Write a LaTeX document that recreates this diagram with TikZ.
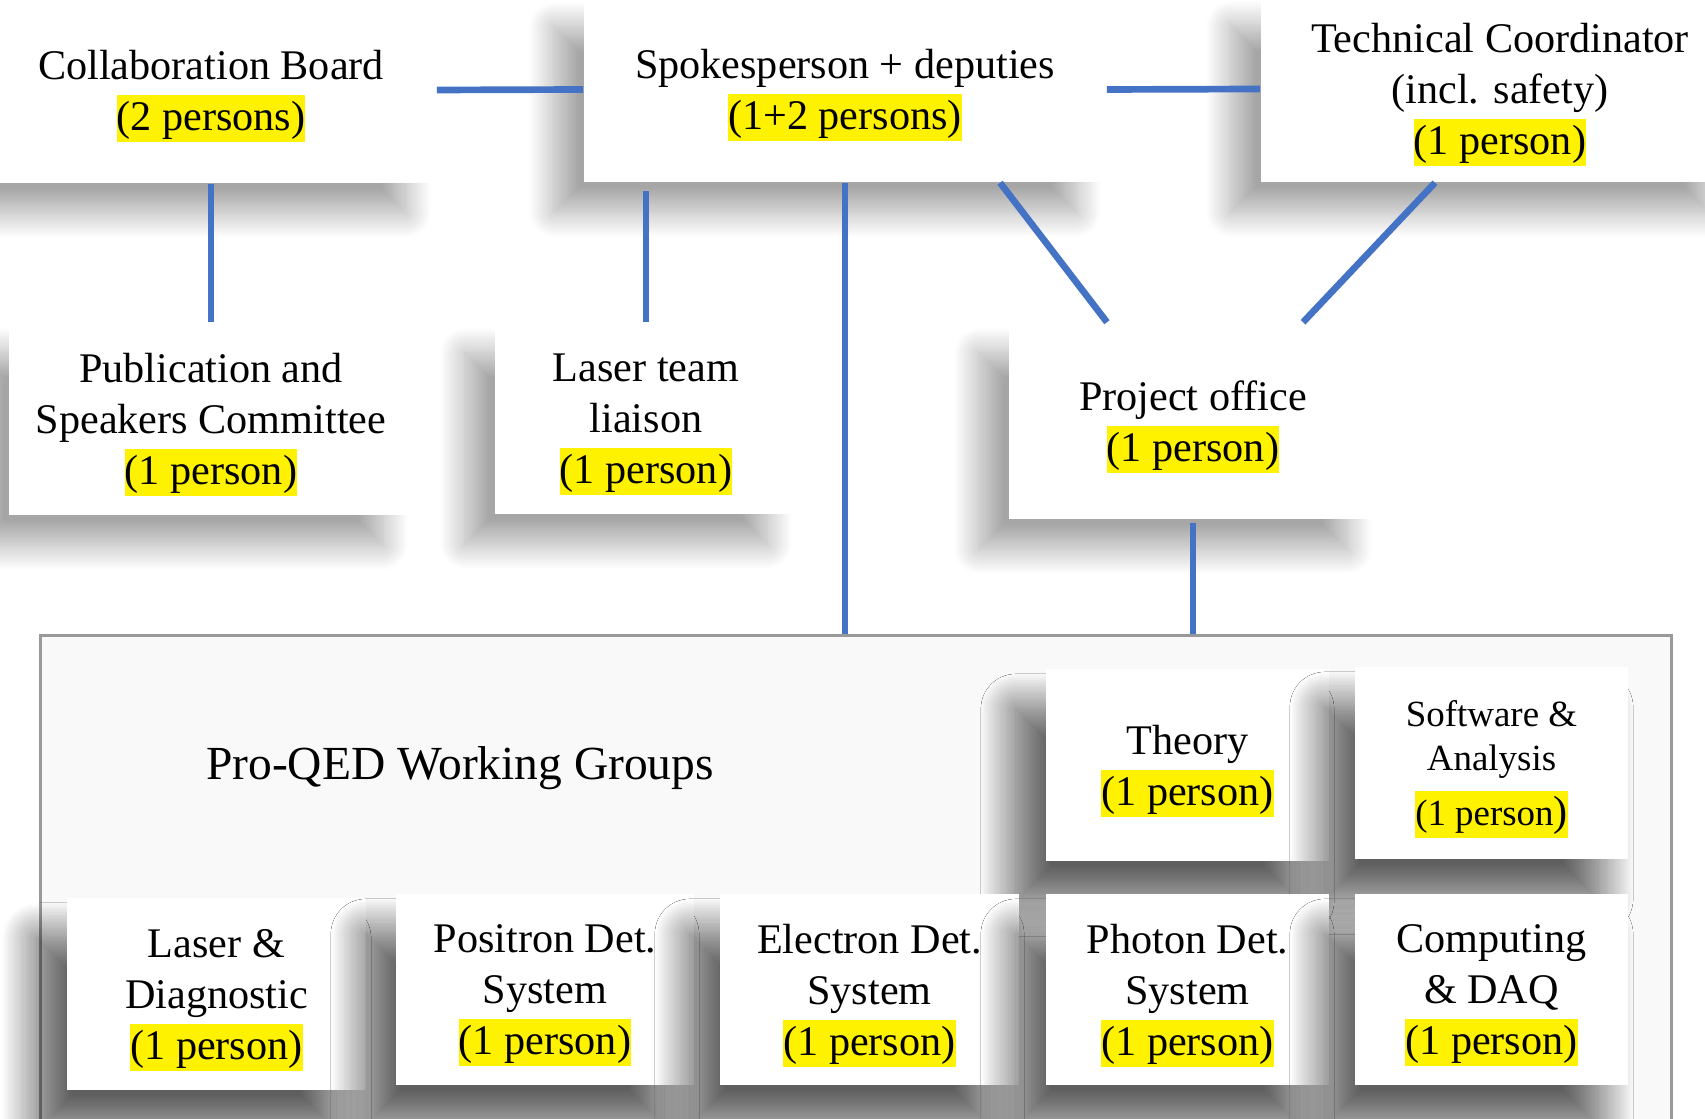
\documentclass[tikz,border=0pt]{standalone}
\usepackage{fontspec}
\setmainfont{Liberation Serif}
\usetikzlibrary{calc,shadows.blur}
\definecolor{linkblue}{HTML}{4472C4}
\definecolor{wgfill}{HTML}{F9F9FA}
\newcommand{\hl}[1]{\raisebox{0pt}[\height][-1.1pt]{\setlength{\fboxsep}{0pt}\colorbox{yellow}{\rule[-3.3pt]{0pt}{13.3pt}#1}}}

\begin{document}
\begin{tikzpicture}[x=0.01cm, y=-0.01cm,
  unit/.style={rectangle, fill=white, inner sep=0pt, align=center,
    font=\fontsize{12}{14.5}\selectfont,
    blur shadow={shadow xshift=-0.3cm, shadow yshift=-0.3cm,
      shadow blur radius=0.25cm, shadow blur steps=25, shadow opacity=35}},
  group/.style={unit,
    blur shadow={shadow xshift=-0.3cm, shadow yshift=-0.4cm,
      shadow blur radius=0.35cm, shadow blur steps=30, shadow opacity=38}},
  link/.style={draw=linkblue, line width=1.9pt}]
  \useasboundingbox (0,0) rectangle (1705,1119);
  \clip (0,0) rectangle (1705,1119);
  % top row
  \node[unit, minimum width=4.5cm, minimum height=1.86cm] (cb) at (211,90) {Collaboration Board\\\hl{(2 persons)}};
  \node[unit, minimum width=5.22cm, minimum height=1.85cm] (sp) at (845,89.5) {Spokesperson + deputies\\\hl{(1+2 persons)}};
  \node[unit, minimum width=4.78cm, minimum height=1.86cm] (tc) at (1500,89) {Technical Coordinator\\(incl. safety)\\\hl{(1 person)}};
  % second row
  \node[unit, minimum width=4.04cm, minimum height=1.92cm] (pub) at (211,419) {Publication and\\Speakers Committee\\\hl{(1 person)}};
  \node[unit, minimum width=3.02cm, minimum height=1.91cm] (lt) at (646,418.5) {Laser team\\liaison\\\hl{(1 person)}};
  \node[unit, minimum width=3.68cm, minimum height=1.96cm] (po) at (1193,421) {Project office\\\hl{(1 person)}};
  % working groups
  \node[draw=gray!80, fill=wgfill, line width=0.8pt, inner sep=0pt, minimum width=16.3cm, minimum height=4.94cm] (wg) at (856,883) {};
  \node[font=\fontsize{13.5}{16}\selectfont] (wgtitle) at (460,768) {Pro-QED Working Groups};
  \node[group, minimum width=2.83cm, minimum height=1.92cm] (th) at (1187.5,765) {Theory\\\hl{(1 person)}};
  \node[group, font=\fontsize{10.5}{12.7}\selectfont, minimum width=2.73cm, minimum height=1.92cm] (sw) at (1491.5,763) {Software \&\\Analysis\\[3pt]\hl{(1 person{\fontsize{12}{12.7}\selectfont)}}};
  \node[group, minimum width=2.99cm, minimum height=1.92cm] (ld) at (216.5,994) {Laser \&\\Diagnostic\\\hl{(1 person)}};
  \node[group, minimum width=2.98cm, minimum height=1.91cm] (pos) at (545,989.5) {Positron Det.\\System\\\hl{(1 person)}};
  \node[group, minimum width=2.99cm, minimum height=1.91cm] (el) at (869.5,989.5) {Electron Det.\\System\\\hl{(1 person)}};
  \node[group, minimum width=2.83cm, minimum height=1.91cm] (ph) at (1187.5,989.5) {Photon Det.\\System\\\hl{(1 person)}};
  \node[group, minimum width=2.73cm, minimum height=1.91cm] (cd) at (1491.5,989.5) {Computing\\\& DAQ\\\hl{(1 person)}};
  % connectors
  \draw[link] (cb.east) -- (sp.west);
  \draw[link] (sp.east) -- (tc.west);
  \draw[link] (cb.south) -- (pub.north);
  \draw[link, shorten <=0.08cm] (sp.south -| lt.north) -- (lt.north);
  \draw[link] (sp.south) -- (sp.south |- wg.north);
  \draw[link] ([xshift=1.55cm]sp.south) -- ([xshift=-0.86cm]po.north);
  \draw[link] ([xshift=-0.65cm]tc.south) -- ([xshift=1.1cm]po.north);
  \draw[link, shorten <=0.03cm] (po.south) -- (po.south |- wg.north);
\end{tikzpicture}
\end{document}
